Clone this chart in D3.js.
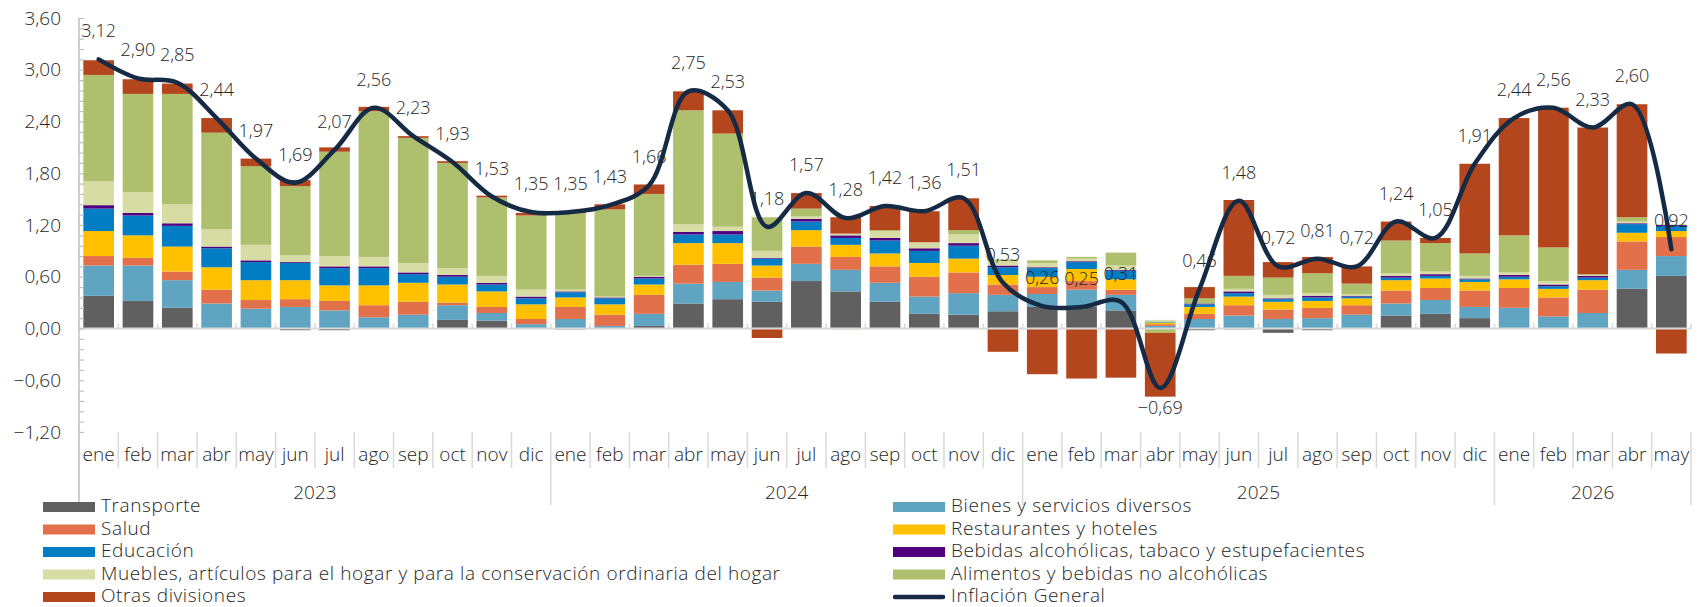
<!DOCTYPE html>
<html>
<head>
<meta charset="utf-8">
<script src="https://cdn.jsdelivr.net/npm/d3@7"></script>
<style>
  body { margin: 0; background: #fff; }
  svg { display: block; font-family: "Open Sans", "Lato", sans-serif; font-weight: 300; }
</style>
</head>
<body>
<div id="chart"></div>
<script>
// meses y años
const months = ["ene","feb","mar","abr","may","jun","jul","ago","sep","oct","nov","dic",
  "ene","feb","mar","abr","may","jun","jul","ago","sep","oct","nov","dic",
  "ene","feb","mar","abr","may","jun","jul","ago","sep","oct","nov","dic",
  "ene","feb","mar","abr","may"];
const years = ["2023", "2024", "2025", "2026"];
const yearStart = [0, 12, 24, 36];

// series (orden de apilado, de abajo hacia arriba)
const seriesNames = ["Transporte", "Bienes y servicios diversos", "Salud", "Restaurantes y hoteles",
  "Educación", "Bebidas alcohólicas, tabaco y estupefacientes",
  "Muebles, artículos para el hogar y para la conservación ordinaria del hogar",
  "Alimentos y bebidas no alcohólicas", "Otras divisiones"];
const seriesColors = ["#606060", "#5fa4c0", "#e2704a", "#ffc000", "#007dc3", "#4e0080", "#d7dca5", "#aebf6d", "#b4461e"];

const transporte = [0.38,0.32,0.24,0,0,-0.02,-0.02,0,0,0.10,0.09,0,
  -0.01,0,0.03,0.29,0.34,0.31,0.55,0.43,0.31,0.17,0.16,0.20,
  0.25,0.25,0.21,0,-0.02,-0.01,-0.05,-0.02,0,0.15,0.17,0.12,
  0,0,0,0.46,0.61];
const bienes = [0.35,0.41,0.32,0.29,0.23,0.25,0.21,0.13,0.16,0.17,0.09,0.05,
  0.11,0.03,0.14,0.23,0.20,0.13,0.20,0.25,0.22,0.20,0.25,0.19,
  0.15,0.20,0.18,0.03,0.11,0.15,0.11,0.12,0.16,0.14,0.16,0.13,
  0.24,0.14,0.18,0.22,0.23];
const salud = [0.11,0.09,0.10,0.16,0.10,0.09,0.11,0.14,0.15,0.03,0.07,0.06,
  0.14,0.13,0.22,0.22,0.21,0.15,0.20,0.15,0.19,0.23,0.24,0.12,
  0.08,0.10,0.06,0.02,0.06,0.12,0.11,0.12,0.11,0.15,0.14,0.19,
  0.23,0.22,0.27,0.33,0.22];
const restaurantes = [0.29,0.26,0.29,0.26,0.23,0.22,0.18,0.23,0.22,0.21,0.18,0.17,
  0.11,0.12,0.12,0.25,0.24,0.14,0.19,0.14,0.15,0.16,0.16,0.11,
  0.12,0.14,0.12,0.02,0.08,0.10,0.09,0.08,0.08,0.12,0.11,0.10,
  0.10,0.10,0.11,0.10,0.07];
const educacion = [0.26,0.23,0.24,0.22,0.21,0.20,0.20,0.20,0.10,0.09,0.08,0.07,
  0.06,0.07,0.07,0.10,0.10,0.08,0.10,0.08,0.15,0.14,0.15,0.09,
  0.10,0.08,0.10,0.01,0.03,0.04,0.03,0.04,0.02,0.03,0.03,0.03,
  0.03,0.03,0.03,0.10,0.06];
const bebidas = [0.04,0.03,0.03,0.02,0.02,0.01,0.02,0.02,0.02,0.02,0.02,0.02,
  0.01,0.01,0.02,0.03,0.04,0.01,0.03,0.03,0.03,0.03,0.03,0.02,
  0.01,0.01,0.01,0,0.01,0.02,0.01,0.02,0.01,0.02,0.02,0.01,
  0.02,0.02,0.02,0.01,0.01];
const muebles = [0.28,0.24,0.22,0.20,0.18,0.08,0.12,0.11,0.11,0.08,0.08,0.08,
  0.02,0.01,0.01,0.09,0.05,0.08,0.03,0.02,0.08,0.07,0.10,0.05,
  0.05,0.03,0.05,0.02,0,0.03,0.04,0.03,0.02,0.03,0.03,0.03,
  0.03,0.04,0.01,0.02,0.01];
const alimentos = [1.23,1.14,1.28,1.12,0.91,0.80,1.21,1.69,1.45,1.22,0.91,0.86,
  0.89,1.01,0.95,1.32,1.08,0.39,0.09,-0.01,0.01,0,0.05,0.02,
  0.03,0.02,0.15,-0.05,0.06,0.15,0.20,0.23,0.12,0.38,0.33,0.26,
  0.43,0.39,0.01,0.05,0];
const otras = [0.17,0.17,0.12,0.17,0.09,0.07,0.05,0.05,0.02,0.02,0.02,0.03,
  0.02,0.06,0.11,0.22,0.27,-0.11,0.18,0.19,0.28,0.36,0.37,-0.27,
  -0.53,-0.58,-0.57,-0.74,0.13,0.88,0.18,0.19,0.20,0.22,0.06,1.04,
  1.36,1.62,1.70,1.31,-0.29];
const inflacion = [3.12,2.90,2.85,2.44,1.97,1.69,2.07,2.56,2.23,1.93,1.53,1.35,
  1.35,1.43,1.66,2.75,2.53,1.18,1.57,1.28,1.42,1.36,1.51,0.53,
  0.26,0.25,0.31,-0.69,0.46,1.48,0.72,0.81,0.72,1.24,1.05,1.91,
  2.44,2.56,2.33,2.60,0.92];
const yTicks = [-1.2, -0.6, 0, 0.6, 1.2, 1.8, 2.4, 3.0, 3.6];

const seriesValues = [transporte, bienes, salud, restaurantes, educacion, bebidas, muebles, alimentos, otras];

const W = 1698, H = 607;
const x0 = 79, x1 = 1691, yTop = 18, yBot = 432;
const FONT = "'Open Sans', Lato, sans-serif";

const svg = d3.select("#chart").append("svg").attr("width", W).attr("height", H);

const idx = d3.range(months.length);
const x = d3.scaleBand().domain(idx).range([x0, x1]).paddingInner(0.22).paddingOuter(0.11);
const step = x.step();
const y = d3.scaleLinear().domain([-1.2, 3.6]).range([yBot, yTop]);

const locale = d3.formatLocale({ decimal: ",", thousands: ".", grouping: [3], currency: ["$", ""] });
const fmt = locale.format(".2f");

// tabla para el apilado
const table = idx.map(i => {
  const row = { i: i };
  seriesNames.forEach((n, k) => row[n] = seriesValues[k][i]);
  return row;
});
const stacked = d3.stack().keys(seriesNames).offset(d3.stackOffsetDiverging)(table);

// barras
svg.append("g").selectAll("g")
  .data(stacked)
  .join("g")
  .attr("fill", (d, k) => seriesColors[k])
  .selectAll("rect")
  .data(d => d)
  .join("rect")
  .attr("x", d => x(d.data.i))
  .attr("width", x.bandwidth())
  .attr("y", d => y(Math.max(d[0], d[1])))
  .attr("height", d => Math.abs(y(d[0]) - y(d[1])));

// linea del cero con marcas
svg.append("line")
  .attr("x1", x0).attr("x2", x1)
  .attr("y1", y(0)).attr("y2", y(0))
  .attr("stroke", "#d9d9d9").attr("stroke-width", 2);
svg.append("g").selectAll("line")
  .data(d3.range(1, months.length + 1))
  .join("line")
  .attr("x1", i => x0 + i * step).attr("x2", i => x0 + i * step)
  .attr("y1", y(0) - 5).attr("y2", y(0))
  .attr("stroke", "#d9d9d9").attr("stroke-width", 1.5);

// eje Y
const yAxis = svg.append("g")
  .attr("transform", `translate(${x0},0)`)
  .call(d3.axisLeft(y).tickValues(yTicks).tickSize(0).tickPadding(18).tickFormat(fmt));
yAxis.select(".domain").remove();
yAxis.selectAll("text").attr("font-size", 19).attr("fill", "#262626")
  .style("font-family", FONT).style("font-weight", 300);

const minor = d3.range(0, 41).map(k => -1.2 + k * 0.12);
const yMinor = svg.append("g")
  .attr("transform", `translate(${x0},0)`)
  .call(d3.axisRight(y).tickValues(minor).tickSize(5).tickFormat(""));
yMinor.select(".domain").remove();
yMinor.selectAll("line").attr("stroke", "#bfbfbf").attr("stroke-width", 1.2);

svg.append("line")
  .attr("x1", x0).attr("x2", x0)
  .attr("y1", yTop).attr("y2", 507)
  .attr("stroke", "#bfbfbf").attr("stroke-width", 1.5);

// eje X: meses
const xAxis = svg.append("g")
  .attr("transform", `translate(0,${yBot})`)
  .call(d3.axisBottom(x).tickSize(0).tickPadding(16).tickFormat(i => months[i]));
xAxis.select(".domain").remove();
xAxis.selectAll("text").attr("font-size", 19).attr("fill", "#262626")
  .style("font-family", FONT).style("font-weight", 300);

svg.append("g").selectAll("line")
  .data(d3.range(1, months.length + 1))
  .join("line")
  .attr("x1", i => x0 + i * step).attr("x2", i => x0 + i * step)
  .attr("y1", yBot).attr("y2", i => (yearStart.includes(i) || i === months.length) ? 505 : 468)
  .attr("stroke", "#d9d9d9").attr("stroke-width", 1.5);

// años
svg.append("g").selectAll("text")
  .data(years)
  .join("text")
  .attr("x", (d, k) => {
    const a = yearStart[k];
    const b = k < years.length - 1 ? yearStart[k + 1] : months.length;
    return x0 + (a + b) / 2 * step;
  })
  .attr("y", 499)
  .attr("text-anchor", "middle")
  .attr("font-size", 19)
  .attr("fill", "#262626")
  .text(d => d);

// linea de inflacion
const line = d3.line()
  .x((d, i) => x(i) + x.bandwidth() / 2)
  .y(d => y(d))
  .curve(d3.curveCatmullRom.alpha(0.5));

svg.append("path")
  .datum(inflacion)
  .attr("d", line)
  .attr("fill", "none")
  .attr("stroke", "#152b45")
  .attr("stroke-width", 4.5)
  .attr("stroke-linecap", "round")
  .attr("stroke-linejoin", "round");

// etiquetas
svg.append("g").selectAll("text")
  .data(inflacion)
  .join("text")
  .attr("x", (d, i) => x(i) + x.bandwidth() / 2)
  .attr("y", d => d >= 0 ? y(d) - 22 : y(d) + 26)
  .attr("text-anchor", "middle")
  .attr("font-size", 18)
  .attr("fill", "#262626")
  .text(d => fmt(d));

// leyenda
const legendItems = seriesNames.map((n, k) => ({ name: n, color: seriesColors[k], type: "rect" }))
  .concat([{ name: "Inflación General", color: "#152b45", type: "line" }]);

const legend = svg.append("g").selectAll("g")
  .data(legendItems)
  .join("g")
  .attr("transform", (d, k) => `translate(${k % 2 === 0 ? 43 : 893},${511 + Math.floor(k / 2) * 22.5})`);

legend.filter(d => d.type === "rect").append("rect")
  .attr("x", 0).attr("y", -9)
  .attr("width", 52).attr("height", 10)
  .attr("fill", d => d.color);

legend.filter(d => d.type === "line").append("line")
  .attr("x1", 2).attr("x2", 50)
  .attr("y1", -4).attr("y2", -4)
  .attr("stroke", d => d.color)
  .attr("stroke-width", 4.5)
  .attr("stroke-linecap", "round");

legend.append("text")
  .attr("x", 58)
  .attr("y", 1)
  .attr("font-size", 19)
  .attr("letter-spacing", 0.6)
  .attr("fill", "#262626")
  .text(d => d.name);
</script>
</body>
</html>
